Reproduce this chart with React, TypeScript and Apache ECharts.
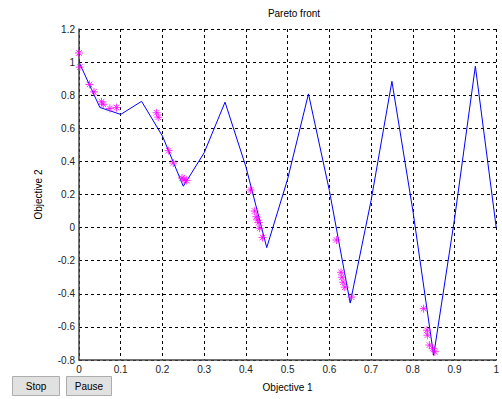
import React, { useEffect, useRef } from "react";
import * as echarts from "echarts";

// Reference front drawn as a polyline (objective 1 vs objective 2)
const frontX = [0, 0.05, 0.1, 0.15, 0.2, 0.25, 0.3, 0.35, 0.4, 0.45, 0.5, 0.55, 0.6, 0.65, 0.7, 0.75, 0.8, 0.85, 0.9, 0.95, 1.0];
const frontY = [1.0, 0.726, 0.684, 0.763, 0.553, 0.25, 0.452, 0.758, 0.368, -0.121, 0.293, 0.808, 0.225, -0.456, 0.163, 0.884, 0.106, -0.772, 0.051, 0.975, 0.0];

// Population points on the current front
const popX = [0.0, 0.002, 0.025, 0.036, 0.054, 0.058, 0.074, 0.09, 0.186, 0.19, 0.215, 0.226, 0.247, 0.252, 0.258,
  0.411, 0.421, 0.425, 0.428, 0.431, 0.433, 0.44, 0.617, 0.628, 0.63, 0.633, 0.637, 0.653, 0.826, 0.834, 0.835, 0.84, 0.848, 0.853];
const popY = [1.055, 0.97, 0.865, 0.82, 0.76, 0.745, 0.72, 0.725, 0.694, 0.667, 0.465, 0.39, 0.3, 0.29, 0.285,
  0.227, 0.1, 0.066, 0.046, 0.03, -0.004, -0.06, -0.075, -0.27, -0.3, -0.33, -0.36, -0.42, -0.49, -0.62, -0.65, -0.71, -0.73, -0.75];

const xTicks = { min: 0, max: 1, interval: 0.1 };
const yTicks = { min: -0.8, max: 1.2, interval: 0.2 };

const asterisk = "path://M5,0L5,10M0,5L10,5M1.5,1.5L8.5,8.5M1.5,8.5L8.5,1.5";
const font = "Liberation Sans, Arial, sans-serif";

export default function App() {
  const ref = useRef<HTMLDivElement>(null);
  useEffect(() => {
    if (!ref.current) return;
    const chart = echarts.init(ref.current, null, { renderer: "svg" });
    const gridLine = { show: true, lineStyle: { color: "#000", type: [3, 3] as any, width: 1 } };
    chart.setOption({
      animation: false,
      backgroundColor: "#fff",
      title: {
        text: "Pareto front",
        left: 289,
        top: 3,
        textAlign: "center",
        textStyle: { fontFamily: font, fontSize: 10, fontWeight: "normal", color: "#000" },
      },
      grid: { left: 79, top: 29, right: 2, bottom: 39 },
      xAxis: {
        type: "value",
        min: xTicks.min,
        max: xTicks.max,
        interval: xTicks.interval,
        name: "Objective 1",
        nameLocation: "middle",
        nameGap: 22,
        nameTextStyle: { fontFamily: font, fontSize: 10, color: "#000" },
        axisLine: { show: true, onZero: false, lineStyle: { color: "#444", width: 1.5 } },
        axisTick: { show: false },
        axisLabel: { fontFamily: font, fontSize: 10, color: "#222", margin: 4, showMaxLabel: true },
        splitLine: gridLine,
      },
      yAxis: {
        type: "value",
        min: yTicks.min,
        max: yTicks.max,
        interval: yTicks.interval,
        name: "Objective 2",
        nameLocation: "middle",
        nameGap: 36,
        nameTextStyle: { fontFamily: font, fontSize: 10, color: "#000" },
        axisLine: { show: true, onZero: false, lineStyle: { color: "#444", width: 1.5 } },
        axisTick: { show: false },
        axisLabel: { fontFamily: font, fontSize: 10, color: "#222", margin: 4 },
        splitLine: gridLine,
      },
      series: [
        {
          type: "line",
          data: frontX.map((x, i) => [x, frontY[i]]),
          showSymbol: false,
          lineStyle: { color: "#0000ff", width: 1 },
          z: 2,
        },
        {
          type: "scatter",
          data: popX.map((x, i) => [x, popY[i]]),
          symbol: asterisk,
          symbolSize: 8,
          itemStyle: { color: "transparent", borderColor: "#ff00ff", borderWidth: 1 },
          z: 3,
        },
      ],
      graphic: [
        {
          type: "group",
          left: 12,
          top: 376,
          children: [
            { type: "rect", shape: { x: 0, y: 0, width: 47, height: 19 }, style: { fill: "#e1e1e1", stroke: "#adadad", lineWidth: 1 } },
            { type: "text", x: 23.5, y: 10, style: { text: "Stop", fontFamily: font, fontSize: 10, fill: "#000", align: "center", verticalAlign: "middle" } },
          ],
        },
        {
          type: "group",
          left: 66,
          top: 376,
          children: [
            { type: "rect", shape: { x: 0, y: 0, width: 45, height: 19 }, style: { fill: "#e1e1e1", stroke: "#adadad", lineWidth: 1 } },
            { type: "text", x: 22.5, y: 10, style: { text: "Pause", fontFamily: font, fontSize: 10, fill: "#000", align: "center", verticalAlign: "middle" } },
          ],
        },
      ],
    });
    return () => chart.dispose();
  }, []);
  return <div ref={ref} style={{ position: "absolute", left: 0, top: 0, width: 502, height: 399 }} />;
}
